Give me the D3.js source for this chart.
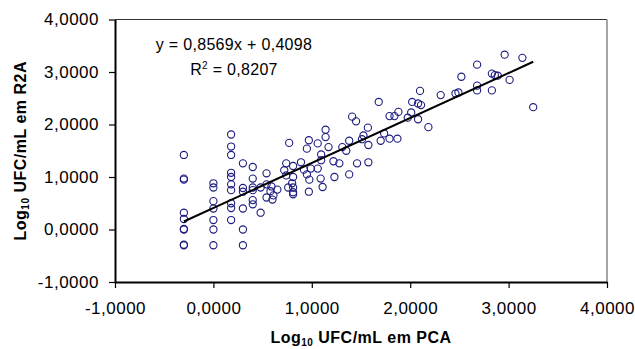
<!DOCTYPE html>
<html>
<head>
  <meta charset="utf-8">
  <title></title>
  <style>
    body { margin: 0; background: #fff; }
    text { font-family: "Liberation Sans", Arial, sans-serif; }
  </style>
</head>
<body>
  <svg width="635" height="349"></svg>

  <script src="https://cdn.jsdelivr.net/npm/d3@7"></script>
  <script>

  // log10 UFC/mL, PCA (x) vs R2A (y)
  var pcaLog = [
    -0.3, -0.3, -0.3, -0.3, -0.3, -0.3, -0.3, -0.3, -0.3,
    0, 0, 0, 0, 0, 0, 0,
    0.18, 0.18, 0.18, 0.18, 0.18, 0.18, 0.18, 0.18, 0.18, 0.18,
    0.3, 0.3, 0.3, 0.3, 0.3, 0.3,
    0.4, 0.4, 0.4, 0.4, 0.4, 0.4,
    0.48, 0.48,
    0.54, 0.54, 0.54,
    0.58, 0.59, 0.6, 0.61, 0.65,
    0.72, 0.74, 0.74, 0.77, 0.76,
    0.81, 0.81, 0.8, 0.81, 0.81, 0.81,
    0.89, 0.92, 0.95, 0.95, 0.97, 0.975, 0.97, 0.99,
    1.06, 1.06, 1.095, 1.095, 1.09, 1.11,
    1.14, 1.14, 1.17, 1.22, 1.23, 1.28, 1.31, 1.35, 1.38, 1.38,
    1.41, 1.45, 1.46, 1.51, 1.525, 1.57, 1.575, 1.575,
    1.68, 1.7, 1.735, 1.79, 1.79, 1.84, 1.87, 1.88, 1.975,
    2.01, 2.02, 2.08, 2.08, 2.11, 2.1, 2.185, 2.31, 2.46, 2.49, 2.52,
    2.68, 2.68, 2.68, 2.83, 2.86, 2.89, 2.83, 2.96, 3.01, 3.14, 3.25
  ];
  var r2aLog = [
    1.42, 0.97, 0.95, 0.32, 0.2, 0, 0.01, -0.3, -0.29,
    0.88, 0.8, 0.54, 0.4, 0.18, 0, -0.3,
    1.81, 1.58, 1.42, 1.08, 1.0, 0.86, 0.75, 0.5, 0.41, 0.18,
    1.26, 0.79, 0.72, 0.4, 0, -0.3,
    1.19, 0.97, 0.8, 0.75, 0.56, 0.48,
    0.8, 0.32,
    1.07, 0.86, 0.61,
    0.73, 0.82, 0.57, 0.65, 0.76,
    1.13, 1.26, 1.03, 1.65, 0.8,
    1.21, 1.0, 0.88, 0.8, 0.71, 0.67,
    1.28, 1.14, 1.54, 1.05, 1.7, 0.95, 0.72, 1.16,
    1.64, 1.16, 1.43, 1.32, 0.97, 0.81,
    1.9, 1.76, 1.57, 1.3, 1.0, 1.26, 1.57, 1.5, 1.69, 1.05,
    2.15, 2.06, 1.26, 1.72, 1.79, 1.94, 1.61, 1.28,
    2.43, 1.69, 1.83, 1.73, 2.16, 2.16, 1.73, 2.24, 2.13,
    2.23, 2.43, 2.1, 2.4, 2.37, 2.64, 1.95, 2.56, 2.59, 2.61, 2.91,
    3.14, 2.74, 2.65, 2.97, 2.94, 2.93, 2.65, 3.33, 2.85, 3.27, 2.33
  ];

  var tickValues = [-1, 0, 1, 2, 3, 4];
  var slope = 0.8569,
      intercept = 0.4098,
      rSquared = "0,8207";

  var svg = d3.select("svg"),
      plotLeft = 115, plotRight = 607, plotTop = 19.5, plotBottom = 282;

  var x = d3.scaleLinear().domain([-1, 4]).range([plotLeft, plotRight]);
  var y = d3.scaleLinear().domain([-1, 4]).range([plotBottom, plotTop]);

  var fmt = d3.formatLocale({
    decimal: ",", thousands: ".", grouping: [3], currency: ["", ""], minus: "-"
  }).format(".4f");

  // plot area frame (top + right)
  svg.append("line")
      .attr("x1", plotLeft).attr("x2", plotRight).attr("y1", plotTop).attr("y2", plotTop)
      .attr("stroke", "#333").attr("stroke-width", 1);
  svg.append("line")
      .attr("x1", plotRight).attr("x2", plotRight).attr("y1", plotTop).attr("y2", plotBottom)
      .attr("stroke", "#888").attr("stroke-width", 1.5);

  var yAxis = svg.append("g")
      .attr("transform", "translate(" + plotLeft + ",0)")
      .call(d3.axisLeft(y).tickValues(tickValues).tickFormat(fmt)
        .tickSize(6).tickSizeOuter(0).tickPadding(10));

  var xAxis = svg.append("g")
      .attr("transform", "translate(0," + plotBottom + ")")
      .call(d3.axisBottom(x).tickValues(tickValues).tickFormat(fmt)
        .tickSize(6).tickSizeOuter(0));

  [xAxis, yAxis].forEach(function(g) {
    g.select(".domain").attr("stroke", "#000").attr("stroke-width", 2);
    g.selectAll(".tick line").attr("stroke", "#000").attr("stroke-width", 1.2);
    g.selectAll("text")
        .attr("fill", "#000")
        .style("font-size", "17px")
        .style("letter-spacing", "0.5px");
  });
  xAxis.selectAll("text").attr("y", 32).attr("dy", 0);

  // points
  var points = pcaLog.map(function(d, i) { return [d, r2aLog[i]]; });

  svg.append("g")
    .selectAll("circle")
    .data(points)
    .enter().append("circle")
      .attr("cx", function(d) { return x(d[0]); })
      .attr("cy", function(d) { return y(d[1]); })
      .attr("r", 3.6)
      .attr("fill", "none")
      .attr("stroke", "#1c1c80")
      .attr("stroke-width", 1.1);

  // trend line over the x range of the data
  var xExt = d3.extent(pcaLog);
  svg.append("line")
      .attr("x1", x(xExt[0])).attr("y1", y(slope * xExt[0] + intercept))
      .attr("x2", x(xExt[1])).attr("y2", y(slope * xExt[1] + intercept))
      .attr("stroke", "#000").attr("stroke-width", 2);

  // equation
  var eq = svg.append("g").style("font-size", "16px").style("letter-spacing", "0.3px");
  eq.append("text")
      .attr("x", 234).attr("y", 49.5)
      .attr("text-anchor", "middle")
      .text("y = " + String(slope).replace(".", ",") + "x + " + String(intercept).replace(".", ","));
  var r2 = eq.append("text")
      .attr("x", 234).attr("y", 75)
      .attr("text-anchor", "middle");
  r2.append("tspan").text("R");
  r2.append("tspan").attr("dy", -6).style("font-size", "10px").text("2");
  r2.append("tspan").attr("dy", 6).text(" = " + rSquared);

  // axis titles
  var xt = svg.append("text")
      .attr("x", (plotLeft + plotRight) / 2).attr("y", 343)
      .attr("text-anchor", "middle")
      .style("font-size", "16px").style("font-weight", "bold")
      .style("letter-spacing", "0.5px");
  xt.append("tspan").text("Log");
  xt.append("tspan").attr("dy", 3).style("font-size", "10px").text("10");
  xt.append("tspan").attr("dy", -3).text(" UFC/mL em PCA");

  var yt = svg.append("text")
      .attr("transform", "translate(26," + (plotTop + plotBottom) / 2 + ") rotate(-90)")
      .attr("text-anchor", "middle")
      .style("font-size", "16px").style("font-weight", "bold")
      .style("letter-spacing", "0.5px");
  yt.append("tspan").text("Log");
  yt.append("tspan").attr("dy", 3).style("font-size", "10px").text("10");
  yt.append("tspan").attr("dy", -3).text(" UFC/mL em R2A");

  </script>
</body>
</html>
